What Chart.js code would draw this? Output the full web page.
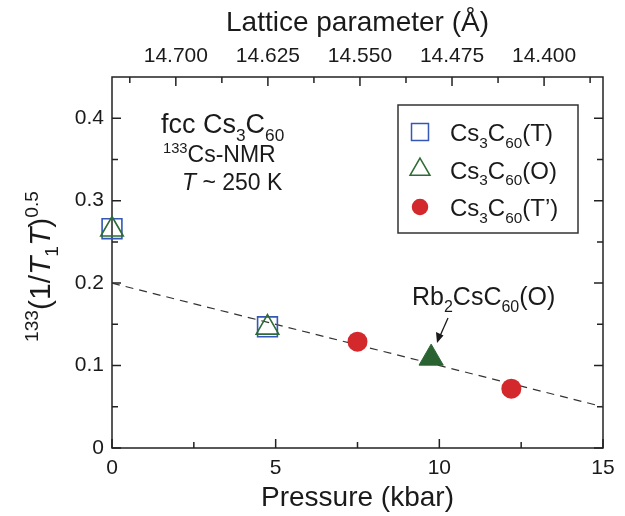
<!DOCTYPE html>
<html>
<head>
<meta charset="utf-8">
<script src="https://cdn.jsdelivr.net/npm/chart.js@4.4.1/dist/chart.umd.min.js"></script>
<style>
  html, body { margin: 0; background: #fff; }
</style>
</head>
<body>
<canvas id="chart" width="625" height="516"></canvas>
<script>
// Values
const pressureT = [0, 4.75];
const rateT = [0.266, 0.147];
const pressureO = [0, 4.75];
const rateO = [0.265, 0.146];
const pressureTp = [7.5, 12.2];
const rateTp = [0.129, 0.072];
const pressureRb = [9.75];
const rateRb = [0.109];
const fitPressure = [0, 15];
const fitRate = [0.2, 0.05];

// Axis ticks
const pressureTicks = [0, 5, 10, 15];
const pressureMinor = [2.5, 7.5, 12.5];
const rateTicks = [0, 0.1, 0.2, 0.3, 0.4];
const rateMinor = [0.05, 0.15, 0.25, 0.35];
const latticeTicks = [14.7, 14.625, 14.55, 14.475, 14.4];
const latticeMinor = [14.7375, 14.6625, 14.5875, 14.5125, 14.4375, 14.3625];

const FONT = '"Liberation Sans", Arial, Helvetica, sans-serif';
Chart.defaults.font.family = FONT;
Chart.defaults.color = "#1a1a1a";

const BLUE = "#3457b8";
const GREEN = "#2e6b36";
const DKGREEN = "#2a6231";
const RED = "#d3292c";

function toPoints(xs, ys) {
  return xs.map((x, i) => ({ x: x, y: ys[i] }));
}

// Draw text made of pieces: [text, mode], mode = "", "sub", "sup", "i"
function richText(ctx, parts, x, y, size, align) {
  const fontFor = (mode) => {
    const s = mode === "sub" || mode === "sup" ? size * 0.64 : size;
    const it = mode === "i" ? "italic " : "";
    return it + s + "px " + FONT;
  };
  let total = 0;
  parts.forEach((p) => {
    ctx.font = fontFor(p[1]);
    total += ctx.measureText(p[0]).width;
  });
  let cx = align === "center" ? x - total / 2 : x;
  ctx.textAlign = "left";
  ctx.textBaseline = "alphabetic";
  parts.forEach((p) => {
    ctx.font = fontFor(p[1]);
    let dy = 0;
    if (p[1] === "sub") dy = size * 0.28;
    if (p[1] === "sup") dy = -size * 0.4;
    ctx.fillText(p[0], cx, y + dy);
    cx += ctx.measureText(p[0]).width;
  });
}

const framePlugin = {
  id: "frame",
  beforeDatasetsDraw(chart) {
    const { ctx, chartArea: a, scales } = chart;
    ctx.save();
    ctx.strokeStyle = "#222";
    ctx.lineWidth = 1.5;
    ctx.strokeRect(a.left, a.top, a.right - a.left, a.bottom - a.top);
    ctx.beginPath();
    const vTicks = (vals, len) => {
      vals.forEach((v) => {
        const py = scales.y.getPixelForValue(v);
        ctx.moveTo(a.left, py);
        ctx.lineTo(a.left + len, py);
        ctx.moveTo(a.right, py);
        ctx.lineTo(a.right - len, py);
      });
    };
    vTicks(rateTicks, 9);
    vTicks(rateMinor, 6);
    pressureTicks.forEach((v) => {
      const px = scales.x.getPixelForValue(v);
      ctx.moveTo(px, a.bottom);
      ctx.lineTo(px, a.bottom - 9);
    });
    pressureMinor.forEach((v) => {
      const px = scales.x.getPixelForValue(v);
      ctx.moveTo(px, a.bottom);
      ctx.lineTo(px, a.bottom - 6);
    });
    latticeTicks.forEach((v) => {
      const px = scales.x2.getPixelForValue(v);
      ctx.moveTo(px, a.top);
      ctx.lineTo(px, a.top + 9);
    });
    latticeMinor.forEach((v) => {
      const px = scales.x2.getPixelForValue(v);
      ctx.moveTo(px, a.top);
      ctx.lineTo(px, a.top + 6);
    });
    ctx.stroke();
    ctx.restore();
  },
};

const textPlugin = {
  id: "texts",
  afterDraw(chart) {
    const { ctx, chartArea: a } = chart;
    const midX = (a.left + a.right) / 2;
    const midY = (a.top + a.bottom) / 2;
    ctx.save();
    ctx.fillStyle = "#1a1a1a";

    // axis titles
    richText(ctx, [["Lattice parameter (Å)", ""]], midX, 31, 28, "center");
    richText(ctx, [["Pressure (kbar)", ""]], midX, 506, 28, "center");
    ctx.save();
    ctx.translate(50, midY + 4);
    ctx.rotate(-Math.PI / 2);
    richText(ctx, [["133", "sup"], ["(1/", ""], ["T", "i"], ["1", "sub"], ["T", "i"], [")", ""], ["0.5", "sup"]], 0, 0, 30, "center");
    ctx.restore();

    // sample notes
    richText(ctx, [["fcc Cs", ""], ["3", "sub"], ["C", ""], ["60", "sub"]], 161, 133, 27, "left");
    richText(ctx, [["133", "sup"], ["Cs-NMR", ""]], 163, 162, 23, "left");
    richText(ctx, [["T", "i"], [" ~ 250 K", ""]], 182, 190, 23, "left");

    // Rb2CsC60 label and arrow
    richText(ctx, [["Rb", ""], ["2", "sub"], ["CsC", ""], ["60", "sub"], ["(O)", ""]], 412, 305, 25, "left");
    ctx.strokeStyle = "#1a1a1a";
    ctx.lineWidth = 1.3;
    ctx.beginPath();
    ctx.moveTo(448, 318);
    ctx.lineTo(440, 336);
    ctx.stroke();
    ctx.beginPath();
    ctx.moveTo(437, 343);
    ctx.lineTo(436, 332);
    ctx.lineTo(443.5, 335.5);
    ctx.closePath();
    ctx.fill();

    // legend
    ctx.strokeStyle = "#333";
    ctx.lineWidth = 1.5;
    ctx.strokeRect(398, 105, 180, 128);
    const rows = [
      { style: "rect", r: 12, fill: "rgba(0,0,0,0)", stroke: BLUE, tag: "T" },
      { style: "triangle", r: 11.5, fill: "rgba(0,0,0,0)", stroke: GREEN, tag: "O" },
      { style: "circle", r: 7.5, fill: RED, stroke: RED, tag: "T’" },
    ];
    rows.forEach((row, i) => {
      const cy = 132 + i * 37.5;
      ctx.save();
      ctx.fillStyle = row.fill;
      ctx.strokeStyle = row.stroke;
      ctx.lineWidth = 1.5;
      Chart.helpers.drawPoint(ctx, { pointStyle: row.style, radius: row.r, rotation: 0, borderWidth: 1.5 }, 420, cy);
      ctx.restore();
      ctx.fillStyle = "#1a1a1a";
      richText(ctx, [["Cs", ""], ["3", "sub"], ["C", ""], ["60", "sub"], ["(" + row.tag + ")", ""]], 450, cy + 9, 24, "left");
    });
    ctx.restore();
  },
};

new Chart(document.getElementById("chart"), {
  type: "scatter",
  data: {
    datasets: [
      {
        label: "Rb2CsC60(O)",
        data: toPoints(pressureRb, rateRb),
        pointStyle: "triangle",
        pointRadius: 14,
        backgroundColor: DKGREEN,
        borderColor: DKGREEN,
        borderWidth: 1,
        clip: false,
      },
      {
        label: "Cs3C60(T')",
        data: toPoints(pressureTp, rateTp),
        pointStyle: "circle",
        pointRadius: 10,
        backgroundColor: RED,
        borderColor: RED,
        borderWidth: 0,
        clip: false,
      },
      {
        label: "Cs3C60(O)",
        data: toPoints(pressureO, rateO),
        pointStyle: "triangle",
        pointRadius: 13,
        backgroundColor: "rgba(0,0,0,0)",
        borderColor: GREEN,
        borderWidth: 1.6,
        clip: false,
      },
      {
        label: "Cs3C60(T)",
        data: toPoints(pressureT, rateT),
        pointStyle: "rect",
        pointRadius: 14,
        backgroundColor: "rgba(0,0,0,0)",
        borderColor: BLUE,
        borderWidth: 1.6,
        clip: false,
      },
      {
        label: "fit",
        data: toPoints(fitPressure, fitRate),
        showLine: true,
        pointRadius: 0,
        borderColor: "#333",
        borderWidth: 1.2,
        borderDash: [8, 6],
      },
    ],
  },
  options: {
    responsive: false,
    animation: false,
    layout: { padding: { left: 0, right: 22, top: 0, bottom: 0 } },
    plugins: {
      legend: { display: false },
      tooltip: { enabled: false },
    },
    scales: {
      x: {
        type: "linear",
        position: "bottom",
        min: 0,
        max: 15,
        grid: { display: false, drawTicks: false },
        border: { display: false },
        afterBuildTicks: (s) => { s.ticks = pressureTicks.map((v) => ({ value: v })); },
        afterFit: (s) => { s.height = 68; },
        ticks: { font: { size: 21 }, padding: 8, callback: (v) => String(v) },
      },
      x2: {
        type: "linear",
        position: "top",
        min: 14.352,
        max: 14.752,
        reverse: true,
        grid: { display: false, drawTicks: false },
        border: { display: false },
        afterBuildTicks: (s) => { s.ticks = latticeTicks.map((v) => ({ value: v })); },
        afterFit: (s) => { s.height = 77; },
        ticks: { font: { size: 21 }, padding: 8, callback: (v) => v.toFixed(3) },
      },
      y: {
        type: "linear",
        min: 0,
        max: 0.45,
        grid: { display: false, drawTicks: false },
        border: { display: false },
        afterBuildTicks: (s) => { s.ticks = rateTicks.map((v) => ({ value: v })); },
        afterFit: (s) => { s.width = 112; },
        ticks: { font: { size: 21 }, padding: 8, callback: (v) => (v === 0 ? "0" : v.toFixed(1)) },
      },
    },
  },
  plugins: [framePlugin, textPlugin],
});
</script>
</body>
</html>
